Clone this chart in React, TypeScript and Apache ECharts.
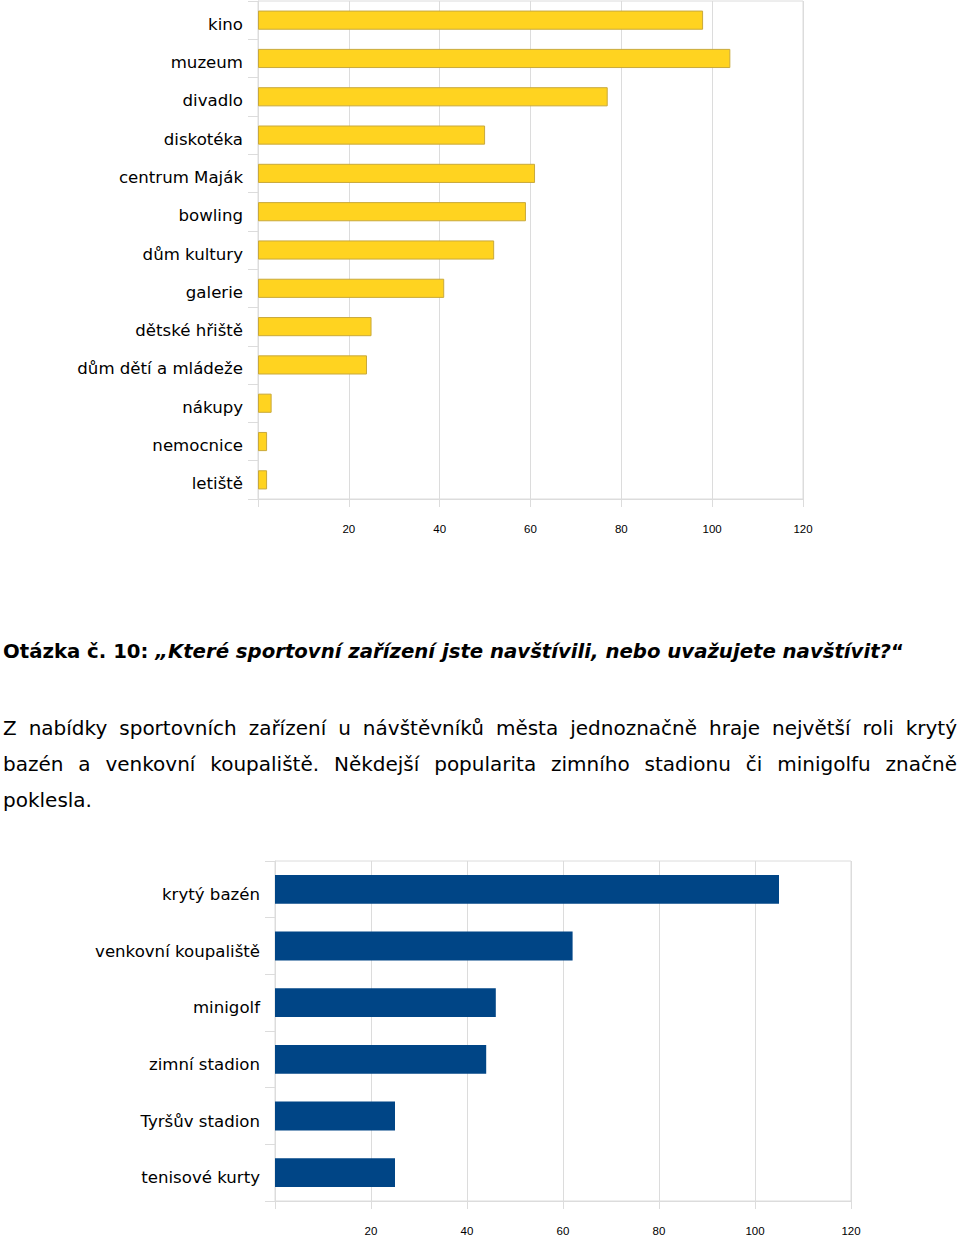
import React, { useEffect, useRef } from "react";
import * as echarts from "echarts";

const leisureCategories = [
  "kino", "muzeum", "divadlo", "diskotéka", "centrum Maják", "bowling", "dům kultury",
  "galerie", "dětské hřiště", "dům dětí a mládeže", "nákupy", "nemocnice", "letiště",
];
const leisureValues = [98, 104, 77, 50, 61, 59, 52, 41, 25, 24, 3, 2, 2];

const sportCategories = [
  "krytý bazén", "venkovní koupaliště", "minigolf", "zimní stadion", "Tyršův stadion", "tenisové kurty",
];
const sportValues = [105, 62, 46, 44, 25, 25];

const headingBold = "Otázka č. 10: ";
const headingItalic = "„Které sportovní zařízení jste navštívili, nebo uvažujete navštívit?";
const headingClose = "“";

const paragraphLines = [
  "Z nabídky sportovních zařízení u návštěvníků města jednoznačně hraje největší roli krytý",
  "bazén a venkovní koupaliště. Někdejší popularita zimního stadionu či minigolfu značně",
  "poklesla.",
];

const FONT = "DejaVu Sans";

function measure(ctx: CanvasRenderingContext2D, s: string, font: string) {
  ctx.font = font;
  return ctx.measureText(s).width;
}

export default function App() {
  const ref = useRef<HTMLDivElement>(null);
  useEffect(() => {
    if (!ref.current) return;
    const chart = echarts.init(ref.current, undefined, { renderer: "svg" });
    const canvas = document.createElement("canvas");
    const ctx = canvas.getContext("2d") as CanvasRenderingContext2D;

    const graphics: any[] = [];
    // heading
    const hFontB = `bold 19.7px '${FONT}'`;
    const hFontBI = `italic bold 19.7px '${FONT}'`;
    const hY = 651.5;
    let hx = 3;
    graphics.push({ type: "text", x: hx, y: hY, style: { text: headingBold, font: hFontB, fill: "#000", align: "left", verticalAlign: "middle" } });
    hx += measure(ctx, headingBold, hFontB);
    graphics.push({ type: "text", x: hx, y: hY, style: { text: headingItalic, font: hFontBI, fill: "#000", align: "left", verticalAlign: "middle" } });
    hx += measure(ctx, headingItalic, hFontBI);
    graphics.push({ type: "text", x: hx, y: hY, style: { text: headingClose, font: hFontB, fill: "#000", align: "left", verticalAlign: "middle" } });

    // paragraph (justified)
    const pFont = `20px '${FONT}'`;
    const left = 3, right = 957;
    paragraphLines.forEach((line, i) => {
      const y = 727.5 + i * 36;
      const justify = i < paragraphLines.length - 1;
      if (!justify) {
        graphics.push({ type: "text", x: left, y, style: { text: line, font: pFont, fill: "#000", align: "left", verticalAlign: "middle" } });
        return;
      }
      const words = line.split(" ");
      const widths = words.map((w) => measure(ctx, w, pFont));
      const total = widths.reduce((a, b) => a + b, 0);
      const gap = (right - left - total) / (words.length - 1);
      let x = left;
      words.forEach((w, k) => {
        graphics.push({ type: "text", x, y, style: { text: w, font: pFont, fill: "#000", align: "left", verticalAlign: "middle" } });
        x += widths[k] + gap;
      });
    });

    const gridLine = "#dcdcdc";
    const mkX = (gridIndex: number) => ({
      type: "value",
      gridIndex,
      min: 0,
      max: 120,
      interval: 20,
      axisLine: { show: true, lineStyle: { color: gridLine } },
      axisTick: { show: true, length: 8, lineStyle: { color: gridLine } },
      splitLine: { show: true, lineStyle: { color: gridLine } },
      axisLabel: {
        margin: 24,
        fontFamily: "Liberation Sans",
        fontSize: 11.5,
        color: "#000",
        formatter: (v: number) => (v === 0 ? "" : String(v)),
      },
    });
    const mkY = (gridIndex: number, data: string[], shift: number) => ({
      type: "category",
      gridIndex,
      data,
      inverse: true,
      axisLine: { show: true, lineStyle: { color: gridLine } },
      axisTick: { show: true, length: 10, lineStyle: { color: gridLine } },
      splitLine: { show: false },
      axisLabel: {
        margin: 15,
        color: "#000",
        formatter: (v: string) => `{a|${v}}`,
        rich: {
          a: {
            fontFamily: FONT,
            fontSize: 16.6,
            color: "#000",
            padding: [shift * 2, 0, 0, 0],
          },
        },
      },
    });

    chart.setOption({
      animation: false,
      backgroundColor: "#fff",
      grid: [
        { left: 258, top: 1, width: 545, height: 498, show: true, borderColor: gridLine, borderWidth: 1, containLabel: false },
        { left: 275, top: 861, width: 576, height: 340, show: true, borderColor: gridLine, borderWidth: 1, containLabel: false },
      ],
      xAxis: [mkX(0), mkX(1)],
      yAxis: [mkY(0, leisureCategories, 4), mkY(1, sportCategories, 5)],
      series: [
        {
          type: "bar",
          xAxisIndex: 0,
          yAxisIndex: 0,
          data: leisureValues,
          barWidth: "50%",
          itemStyle: { color: "#FFD320", borderColor: "#C9A93B", borderWidth: 1 },
        },
        {
          type: "bar",
          xAxisIndex: 1,
          yAxisIndex: 1,
          data: sportValues,
          barWidth: "51%",
          itemStyle: { color: "#004586" },
        },
      ],
      graphic: graphics,
    });
    return () => chart.dispose();
  }, []);
  return (
    <div
      ref={ref}
      style={{ position: "absolute", left: 0, top: 0, width: 960, height: 1238, background: "#fff" }}
    />
  );
}
